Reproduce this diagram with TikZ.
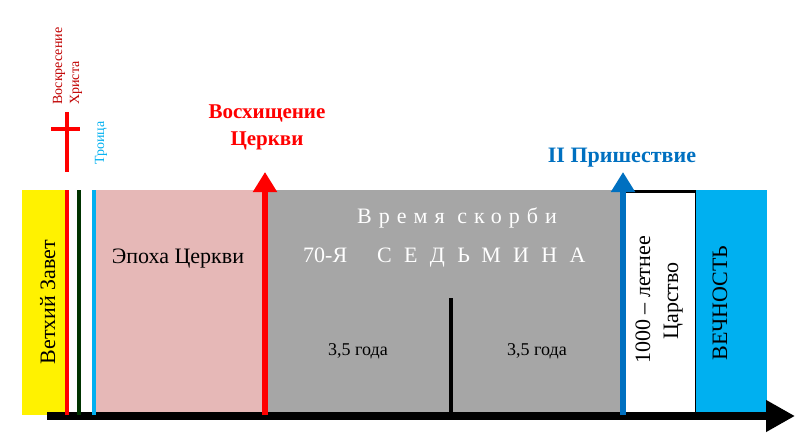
\documentclass[tikz,border=0pt]{standalone}
\usepackage{fontspec}
\setmainfont{LiberationSerif}[Extension=.ttf, UprightFont=*-Regular, BoldFont=*-Bold, ItalicFont=*-Italic, BoldItalicFont=*-BoldItalic]
\usetikzlibrary{arrows.meta}
\definecolor{churchpink}{RGB}{230,184,183}
\definecolor{tribgray}{RGB}{166,166,166}
\definecolor{eternblue}{RGB}{0,176,240}
\definecolor{comingblue}{RGB}{0,112,192}
\definecolor{risered}{RGB}{192,0,0}
\definecolor{lawgreen}{RGB}{0,51,0}

\begin{document}
\begin{tikzpicture}[x=1pt, y=-1pt,
    every node/.style={inner sep=0pt, font=\rmfamily\fontsize{22}{26}\selectfont},
    period/.style={minimum height=225pt, anchor=north west},
    mark line/.style={line width=4.5pt},
    event/.style={line width=6pt, -{Triangle[length=20pt, width=23pt]}}]
    \useasboundingbox (0,0) rectangle (800,433);

    \node[period, fill=yellow, minimum width=43pt] (oldt) at (22,190) {};
    \node[period, fill=churchpink, minimum width=170pt] (church) at (96,190) {};
    \node[period, fill=tribgray, minimum width=357pt] (trib) at (266,190) {};
    \node[period, draw=black, line width=2.5pt, minimum width=72pt] (kingdom) at (623,190) {};
    \node[period, fill=eternblue, minimum width=71pt] (etern) at (696,190) {};

    \coordinate (axstart) at (47,416);
    \coordinate (axend) at (795,416);
    \draw[line width=8pt, -{Triangle[length=29pt, width=30pt]}] (axstart) -- (axend);

    \draw[mark line, red] (67,190) -- (67,415);
    \draw[mark line, lawgreen] (79,190) -- (79,415);
    \draw[mark line, eternblue] (94,190) -- (94,415);
    \draw[mark line, black] (451,298) -- (451,413);

    % cross
    \draw[mark line, red] (67,112) -- (67,172);
    \draw[mark line, red] (51,129) -- (80,129);

    \coordinate (rapbot) at (265,415);
    \coordinate (raptop) at (265,172);
    \coordinate (comebot) at (623,415);
    \coordinate (cometop) at (623,172);
    \draw[event, red] (rapbot) -- (raptop);
    \draw[event, comingblue] (comebot) -- (cometop);

    \node[rotate=90, anchor=base west, risered, font=\rmfamily\fontsize{14}{16}\selectfont] (rise) at (62,105) {Воскресение};
    \node[rotate=90, anchor=base west, risered, font=\rmfamily\fontsize{14}{16}\selectfont] (christ) at (79,105) {Христа};
    \node[rotate=90, anchor=base west, eternblue, font=\rmfamily\fontsize{14}{16}\selectfont] (trinity) at (104,165) {Троица};
    \node[anchor=north, red, align=center, font=\rmfamily\bfseries\fontsize{21}{27}\selectfont] (rapture) at (267,105) {Восхищение\\Церкви};
    \node[anchor=base, comingblue, font=\rmfamily\bfseries\fontsize{22}{26}\selectfont] (coming) at (622,162) {II Пришествие};

    \node[rotate=90, anchor=base] (oldlbl) at (55,302) {Ветхий Завет};
    \node[anchor=base] (churchlbl) at (178,263) {Эпоха Церкви};
    \node[anchor=base, white, font=\rmfamily\fontsize{22}{26}\selectfont\addfontfeature{LetterSpace=32}] (triblbl) at (457,223) {Время скорби};
    \node[anchor=base west, white] (seventy) at (303,262) {70-Я};
    \node[anchor=base west, white, font=\rmfamily\fontsize{22}{26}\selectfont\addfontfeature{LetterSpace=56}] (week) at (377,262) {СЕДЬМИНА};
    \node[anchor=base, font=\rmfamily\fontsize{18}{20}\selectfont] (half1) at (358,355) {3,5 года};
    \node[anchor=base, font=\rmfamily\fontsize{18}{20}\selectfont] (half2) at (537,355) {3,5 года};
    \node[rotate=90, anchor=base] (kinglbl) at (650,300) {1000 – летнее};
    \node[rotate=90, anchor=base] (kinglbl2) at (678,301) {Царство};
    \node[rotate=90, anchor=base] (eternlbl) at (727,303) {ВЕЧНОСТЬ};
\end{tikzpicture}
\end{document}
